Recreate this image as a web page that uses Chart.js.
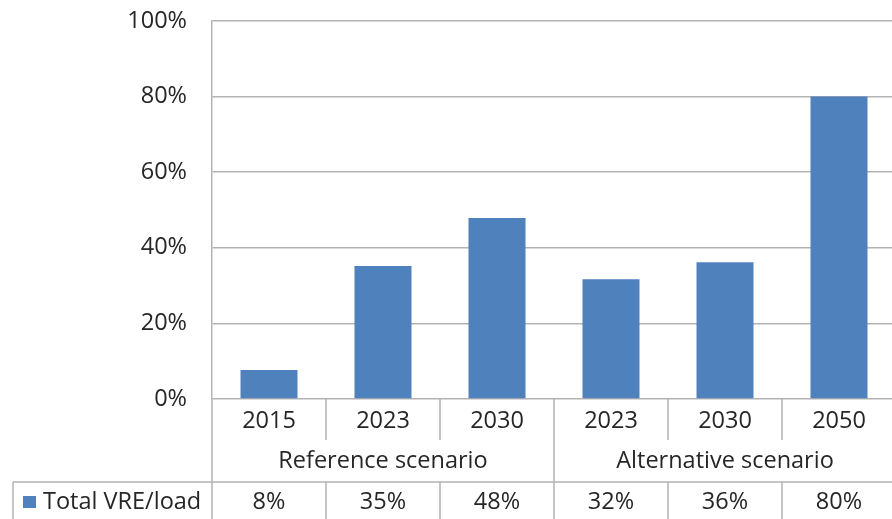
<!DOCTYPE html>
<html>
<head>
<meta charset="utf-8">
<script src="https://cdn.jsdelivr.net/npm/chart.js@4"></script>
<style>
  html, body { margin: 0; padding: 0; background: #fff; overflow: hidden; }
  #wrap { width: 900px; height: 519px; }
</style>
</head>
<body>
<div id="wrap"><canvas id="canvas" width="900" height="519"></canvas></div>
<script>
// datos
let years = ["2015", "2023", "2030", "2023", "2030", "2050"];
let scenarios = ["Reference scenario", "Alternative scenario"];
let scenario_size = [3, 3];
let vre_share = [7.7, 35.2, 47.9, 31.7, 36.2, 80.0];
let series_name = "Total VRE/load";
let y_ticks = [0, 20, 40, 60, 80, 100];

let BLUE = "#4F81BD";
let GRID = "#b3b3b3";
let TEXT = "#262626";
let FONT = "'Open Sans', Lato, sans-serif";
let FONT_SIZE = 23.5;

// dibuja la tabla de datos debajo del eje x
let data_table = {
    id: "data_table",
    afterDraw(chart) {
        let ctx = chart.ctx;
        let xs = chart.scales.x;
        let area = chart.chartArea;
        let top = area.bottom;
        let row1 = top + 41, row2 = top + 83, end = chart.height;
        let step = xs.getPixelForValue(1) - xs.getPixelForValue(0);
        let bounds = [];
        for (let i = 0; i <= years.length; i++)
            bounds.push(xs.getPixelForValue(0) - step / 2 + i * step);

        ctx.save();
        ctx.strokeStyle = GRID;
        ctx.lineWidth = 1.5;
        ctx.beginPath();
        // separadores de los anos
        for (let i = 0; i <= years.length; i++) {
            ctx.moveTo(bounds[i], top);
            ctx.lineTo(bounds[i], row1);
        }
        // separadores de escenarios
        let k = 0;
        for (let s = 0; s <= scenarios.length; s++) {
            ctx.moveTo(bounds[k], row1);
            ctx.lineTo(bounds[k], row2);
            if (s < scenarios.length) k += scenario_size[s];
        }
        // fila de valores
        ctx.moveTo(13, row2);
        ctx.lineTo(chart.width, row2);
        ctx.moveTo(13, row2);
        ctx.lineTo(13, end);
        for (let i = 0; i <= years.length; i++) {
            ctx.moveTo(bounds[i], row2);
            ctx.lineTo(bounds[i], end);
        }
        ctx.stroke();

        ctx.fillStyle = TEXT;
        ctx.font = FONT_SIZE + "px " + FONT;
        ctx.textAlign = "center";
        ctx.textBaseline = "middle";
        for (let i = 0; i < years.length; i++) {
            let cx = xs.getPixelForValue(i);
            ctx.fillText(years[i], cx, top + 22.5);
            ctx.fillText(Math.round(vre_share[i]) + "%", cx, row2 + 20.5);
        }
        k = 0;
        for (let s = 0; s < scenarios.length; s++) {
            let cx = (bounds[k] + bounds[k + scenario_size[s]]) / 2;
            ctx.fillText(scenarios[s], cx, top + 62.5);
            k += scenario_size[s];
        }
        // leyenda
        ctx.fillStyle = BLUE;
        ctx.fillRect(23, row2 + 14, 13, 12);
        ctx.fillStyle = TEXT;
        ctx.textAlign = "left";
        ctx.fillText(series_name, 43, row2 + 20.5);
        ctx.restore();
    }
};

let ctx = document.getElementById("canvas").getContext("2d");
let chart = new Chart(ctx, {
    type: "bar",
    data: {
        labels: years,
        datasets: [{
            label: series_name,
            data: vre_share,
            backgroundColor: BLUE,
            borderWidth: 0,
            barPercentage: 0.5,
            categoryPercentage: 1.0
        }]
    },
    options: {
        responsive: false,
        animation: false,
        layout: { padding: { left: 0, right: 4, top: 21, bottom: 120 } },
        plugins: { legend: { display: false }, tooltip: { enabled: false } },
        scales: {
            x: {
                ticks: { display: false },
                grid: { display: false },
                border: { display: false },
                afterFit(scale) { scale.height = 0; }
            },
            y: {
                min: 0,
                max: 100,
                afterBuildTicks(scale) { scale.ticks = y_ticks.map(v => ({ value: v })); },
                afterFit(scale) { scale.width = 212; },
                ticks: {
                    padding: 0,
                    color: TEXT,
                    font: { family: FONT, size: FONT_SIZE },
                    callback: v => v + "%"
                },
                grid: { color: GRID, lineWidth: 1.5, drawTicks: true, tickLength: 25, tickColor: "rgba(0,0,0,0)" },
                border: { display: true, color: GRID, width: 1.5 }
            }
        }
    },
    plugins: [data_table]
});
</script>
</body>
</html>
